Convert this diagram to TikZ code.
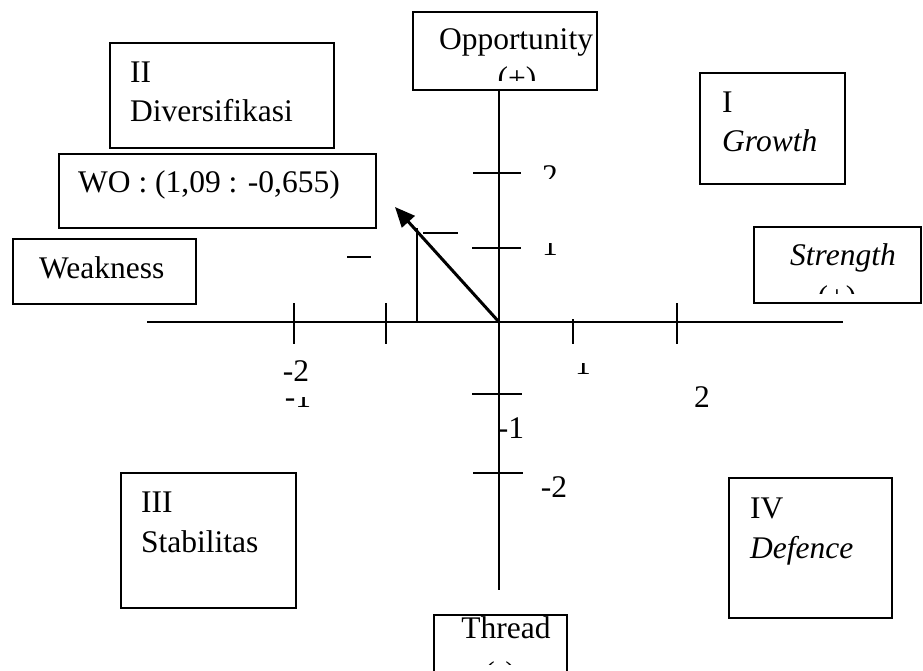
\documentclass[tikz,border=0pt]{standalone}
\usepackage{fontspec}
\setmainfont{Liberation Serif}
\usetikzlibrary{arrows.meta}

\begin{document}
\begin{tikzpicture}[x=1pt, y=-1pt,
    box/.style={draw, line width=1.8pt, inner sep=0pt, anchor=north west},
    txt/.style={inner sep=0pt, font=\fontsize{31.5}{38}\selectfont},
    tick/.style={line width=1.6pt}]
    \useasboundingbox (0,0) rectangle (923,671);
    % axes
    \coordinate (O) at (499,322);
    \coordinate (L) at (147,322);
    \coordinate (R) at (843,322);
    \coordinate (U) at (499,89);
    \coordinate (D) at (499,590);
    \draw[line width=2.2pt] (L) -- (R);
    \draw[line width=2.2pt] (U) -- (D);
    \draw[tick] (294,303) -- (294,344);
    \draw[tick] (386,303) -- (386,344);
    \draw[tick] (573,319) -- (573,344);
    \draw[tick] (677,303) -- (677,344);
    \draw[tick] (473,173) -- (521,173);
    \draw[tick] (472,248) -- (521,248);
    \draw[tick] (472,394) -- (522,394);
    \draw[tick] (473,473) -- (523,473);
    \draw[line width=1.3pt] (347,257) -- (371,257);
    \draw[line width=1.3pt] (423,233) -- (458,233);
    % WO point
    \coordinate (P) at (395,207);
    \coordinate (Px) at (417,322);
    \coordinate (Py) at (417,228);
    \draw[line width=1.8pt] (Px) -- (Py);
    \draw[line width=3pt, -{Triangle[length=20pt,width=17pt]}] (O) -- (P);
    % boxes
    \node[box, minimum width=184pt, minimum height=78pt] (Op) at (412,11) {};
    \node[box, minimum width=224pt, minimum height=105pt] (II) at (109,42) {};
    \node[box, minimum width=145pt, minimum height=111pt] (I) at (699,72) {};
    \node[box, minimum width=317pt, minimum height=74pt] (WO) at (58,153) {};
    \node[box, minimum width=183pt, minimum height=65pt] (W) at (12,238) {};
    \node[box, minimum width=167pt, minimum height=76pt] (S) at (753,226) {};
    \node[box, minimum width=175pt, minimum height=135pt] (III) at (120,472) {};
    \node[box, minimum width=163pt, minimum height=140pt] (IV) at (728,477) {};
    \draw[line width=1.8pt] (434,671) -- (434,615) -- (567,615) -- (567,671);
    % texts
    \node[txt, anchor=base] (Opt) at (516,50) {Opportunity};
    \begin{scope}
        \clip (412,60) rectangle (596,81);
        \node[txt, anchor=base] (Opp) at (517,89) {(+)};
    \end{scope}
    \node[txt, anchor=base west] (IIa) at (130,83) {II};
    \node[txt, anchor=base west] (IIb) at (130,122) {Diversifikasi};
    \node[txt, anchor=base west] (Ia) at (722,113) {I};
    \node[txt, anchor=base west] (Ib) at (722,152) {\textit{Growth}};
    \node[txt, anchor=base west] (WOt) at (78,193) {WO : (1,09 : -0,655)};
    \node[txt, anchor=base west] (Wt) at (39,278) {Weakness};
    \node[txt, anchor=base] (St) at (843,265) {\textit{Strength}};
    \begin{scope}
        \clip (753,270) rectangle (920,293);
        \node[txt, anchor=base] (Sp) at (837,307) {(+)};
    \end{scope}
    \node[txt, anchor=base west] (IIIa) at (141,512) {III};
    \node[txt, anchor=base west] (IIIb) at (141,552) {Stabilitas};
    \node[txt, anchor=base west] (IVa) at (750,518) {IV};
    \node[txt, anchor=base west] (IVb) at (750,558) {\textit{Defence}};
    \node[txt, anchor=base] (Tt) at (506,638) {Thread};
    \begin{scope}
        \clip (434,650) rectangle (567,664);
        \node[txt, anchor=base] (Tm) at (500,683) {(-)};
    \end{scope}
    % tick labels
    \node[txt, anchor=base] (xm2) at (296,381) {-2};
    \begin{scope}
        \clip (270,397) rectangle (330,412);
        \node[txt, anchor=base] (xm1) at (298,407) {-1};
    \end{scope}
    \begin{scope}
        \clip (560,363) rectangle (610,380);
        \node[txt, anchor=base] (x1) at (583,374) {1};
    \end{scope}
    \node[txt, anchor=base] (x2) at (702,407) {2};
    \begin{scope}
        \clip (530,150) rectangle (570,179);
        \node[txt, anchor=base] (y2) at (550,187) {2};
    \end{scope}
    \begin{scope}
        \clip (530,243) rectangle (570,262);
        \node[txt, anchor=base] (y1) at (550,255) {1};
    \end{scope}
    \node[txt, anchor=base] (ym1) at (511,438) {-1};
    \node[txt, anchor=base] (ym2) at (554,497) {-2};
\end{tikzpicture}
\end{document}
